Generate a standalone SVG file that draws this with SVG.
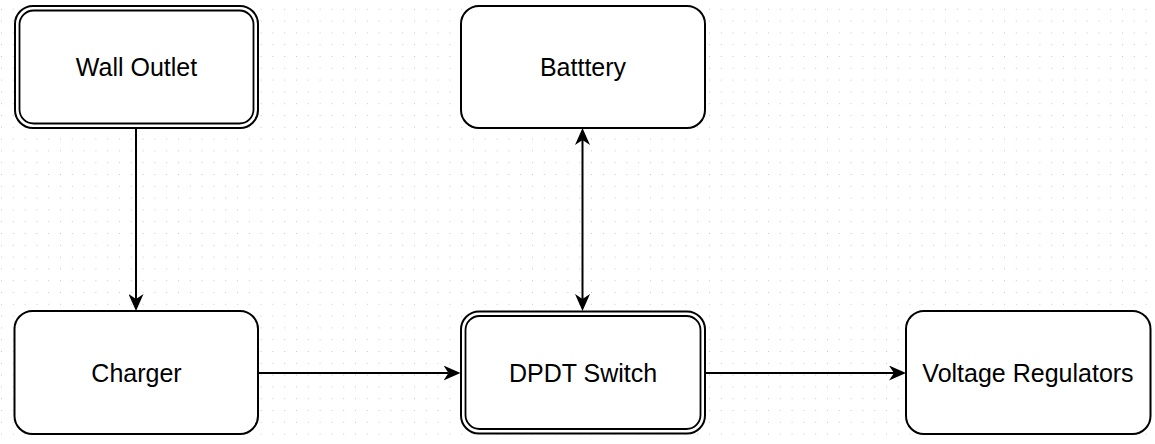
<svg xmlns="http://www.w3.org/2000/svg" width="1155" height="444" viewBox="0 0 1155 444">
  <style>
    .box { fill: #ffffff; stroke: #000000; stroke-width: 2; }
    .inner { fill: none; stroke: #000000; stroke-width: 1.8; }
    .label { font-family: "Liberation Sans", Arial, sans-serif; font-size: 25px; fill: #000000; text-anchor: middle; }
    .edge { fill: none; stroke: #000000; stroke-width: 2; }
  </style>
  <defs>
    <pattern id="grid" patternUnits="userSpaceOnUse" x="1" y="-3" width="11.8" height="11.8">
      <rect x="0" y="0" width="1" height="1" fill="#c8c8c8"/>
    </pattern>
    <marker id="arrow" markerUnits="userSpaceOnUse" viewBox="0 0 17 15" markerWidth="17" markerHeight="15" refX="5" refY="7.5" orient="auto-start-reverse">
      <path d="M0,0 L17,7.5 L0,15 L5,7.5 Z" fill="#000000"/>
    </marker>
  </defs>
  <rect x="0" y="0" width="1155" height="444" fill="#ffffff"/>
  <rect x="0" y="0" width="1155" height="444" fill="url(#grid)"/>

  <g id="connectors">
    <path class="edge" d="M136,128 L136,299" marker-end="url(#arrow)"/>
    <path class="edge" d="M258,373 L448.5,373" marker-end="url(#arrow)"/>
    <path class="edge" d="M705,373 L894,373" marker-end="url(#arrow)"/>
    <path class="edge" d="M582.5,140 L582.5,299" marker-start="url(#arrow)" marker-end="url(#arrow)"/>
  </g>

  <g id="wall-outlet">
    <rect class="box" x="15" y="6" width="243" height="122" rx="18" ry="18"/>
    <rect class="inner" x="19.5" y="10.5" width="234" height="113" rx="14" ry="14"/>
    <text class="label" x="136.5" y="76">Wall Outlet</text>
  </g>

  <g id="battery">
    <rect class="box" x="461" y="6" width="244" height="122" rx="18" ry="18"/>
    <text class="label" x="583" y="76">Batttery</text>
  </g>

  <g id="charger">
    <rect class="box" x="14.5" y="311" width="243.5" height="123" rx="18" ry="18"/>
    <text class="label" x="136.5" y="382">Charger</text>
  </g>

  <g id="dpdt-switch">
    <rect class="box" x="461" y="311.5" width="244" height="122" rx="18" ry="18"/>
    <rect class="inner" x="465.5" y="316" width="235" height="113" rx="14" ry="14"/>
    <text class="label" x="583" y="382">DPDT Switch</text>
  </g>

  <g id="voltage-regulators">
    <rect class="box" x="906" y="311" width="244.5" height="123" rx="18" ry="18"/>
    <text class="label" x="1028" y="382">Voltage Regulators</text>
  </g>
</svg>
